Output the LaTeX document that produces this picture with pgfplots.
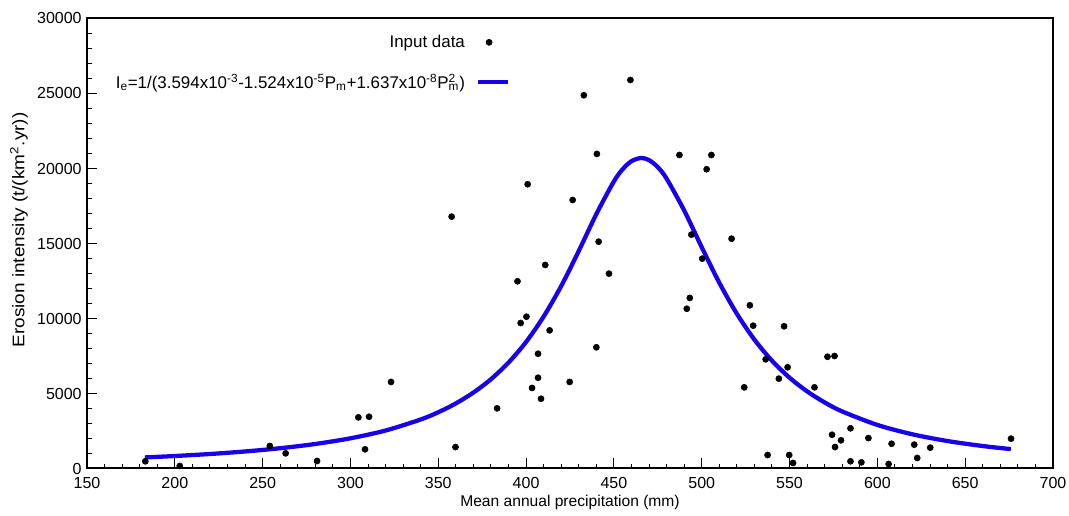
\documentclass[border=0pt]{standalone}
\usepackage{graphicx}
\usepackage{pgfplots}
\pgfplotsset{compat=1.18}
\usepackage{fontspec}
\setmainfont{Liberation Sans}
\definecolor{fitblue}{RGB}{25,0,235}
\pgfplotsset{longline/.style={legend image code/.code={\draw[##1] (0pt,0pt) -- (22.5pt,0pt);}}}
\pgfplotstableread{
x y
183.2 480
202.8 170
254.1 1500
263.1 1010
281.0 500
304.5 3410
308.3 1280
310.6 3450
323.1 5770
357.6 16790
359.8 1430
383.5 4010
395.1 12480
396.9 9700
400.2 10120
400.9 18950
403.4 5370
406.8 7650
406.8 6050
408.5 4650
410.9 13570
413.4 9210
424.8 5770
426.5 17900
432.9 24880
440.0 8080
440.3 20970
441.3 15120
447.2 12990
459.4 25900
487.3 20900
491.5 10650
493.2 11370
494.1 15590
500.3 13990
502.8 19950
505.5 20900
517.0 15320
524.2 5410
527.4 10880
529.3 9520
536.4 7280
537.5 900
543.9 5990
546.9 9480
548.9 6750
549.8 900
552.0 370
564.2 5410
571.6 7450
574.2 2250
575.6 7500
575.9 1430
579.3 1880
584.7 2680
584.7 480
590.9 410
594.9 2030
606.4 300
608.1 1650
621.0 1590
622.7 700
630.1 1390
676.1 1990
}\obsdata
\pgfplotstableread{
x y
183 738
200 832
220 966
240 1135
260 1352
280 1635
300 2013
320 2532
340 3267
350 3750
360 4338
370 5061
380 5952
390 7062
400 8436
410 10132
420 12165
430 14505
440 16962
450 19141
455 19954
460 20490
465.5 20700
470 20559
475 20086
480 19323
490 17201
500 14751
510 12387
520 10316
530 8590
540 7186
550 6053
560 5141
570 4404
580 3803
600 2903
620 2278
640 1829
660 1498
676 1292
}\fitdata
\begin{document}
\begin{tikzpicture}
\begin{axis}[
  name=ax,
  scale only axis,
  width=724.5pt, height=337.5pt,
  xmin=150, xmax=700, ymin=0, ymax=30000,
  xtick={150,200,...,700},
  ytick={0,5000,...,30000},
  minor x tick num=4,
  minor y tick num=4,
  tick align=inside,
  xtick pos=bottom, ytick pos=left,
  major tick length=7.5pt, minor tick length=3.5pt,
  every tick/.style={black, line width=0.75pt},
  axis line style={line width=1.5pt},
  scaled ticks=false,
  /pgf/number format/assume math mode=true,
  xticklabel={\pgfmathprintnumber[fixed,precision=0,1000 sep={}]{\tick}},
  yticklabel={\pgfmathprintnumber[fixed,precision=0,1000 sep={}]{\tick}},
  tick label style={font=\fontsize{12}{14}\selectfont},
  xticklabel style={yshift=-3pt},
  yticklabel style={xshift=-0.5pt},
  xlabel={Mean annual precipitation (mm)},
  ylabel={\scalebox{1.13}[1]{Erosion intensity (t/(km\textsuperscript{2}.yr))}},
  xlabel style={font=\fontsize{11.7}{14}\selectfont, at={(axis description cs:0.5,-0.076)}, anchor=center},
  ylabel style={font=\fontsize{12.6}{14}\selectfont, at={(axis description cs:-0.0704,0.53)}, anchor=center},
  legend plot pos=right,
  legend cell align=right,
  legend style={draw=none, fill=none, inner sep=0pt, row sep=14.5pt, column sep=6pt,
    font=\fontsize{12.7}{15}\selectfont,
    at={(axis description cs:0.438,0.9694)}, anchor=north east},
]
\addplot[only marks, mark=*, mark size=2.3pt, black] table {\obsdata};
\addlegendentry{Input data}
\addplot[fitblue, line width=3.2pt, line join=round, smooth, longline] table {\fitdata};
\addlegendentry{I\textsubscript{e}=1/(3.594x10\textsuperscript{-3}-1.524x10\textsuperscript{-5}P\textsubscript{m}+1.637x10\textsuperscript{-8}P\rlap{\textsuperscript{2}}\textsubscript{m})}
\end{axis}
\pgfresetboundingbox
\path ([shift={(-65.25pt,-35.625pt)}]ax.south west) rectangle ([shift={(12pt,13.875pt)}]ax.north east);
\end{tikzpicture}
\end{document}
